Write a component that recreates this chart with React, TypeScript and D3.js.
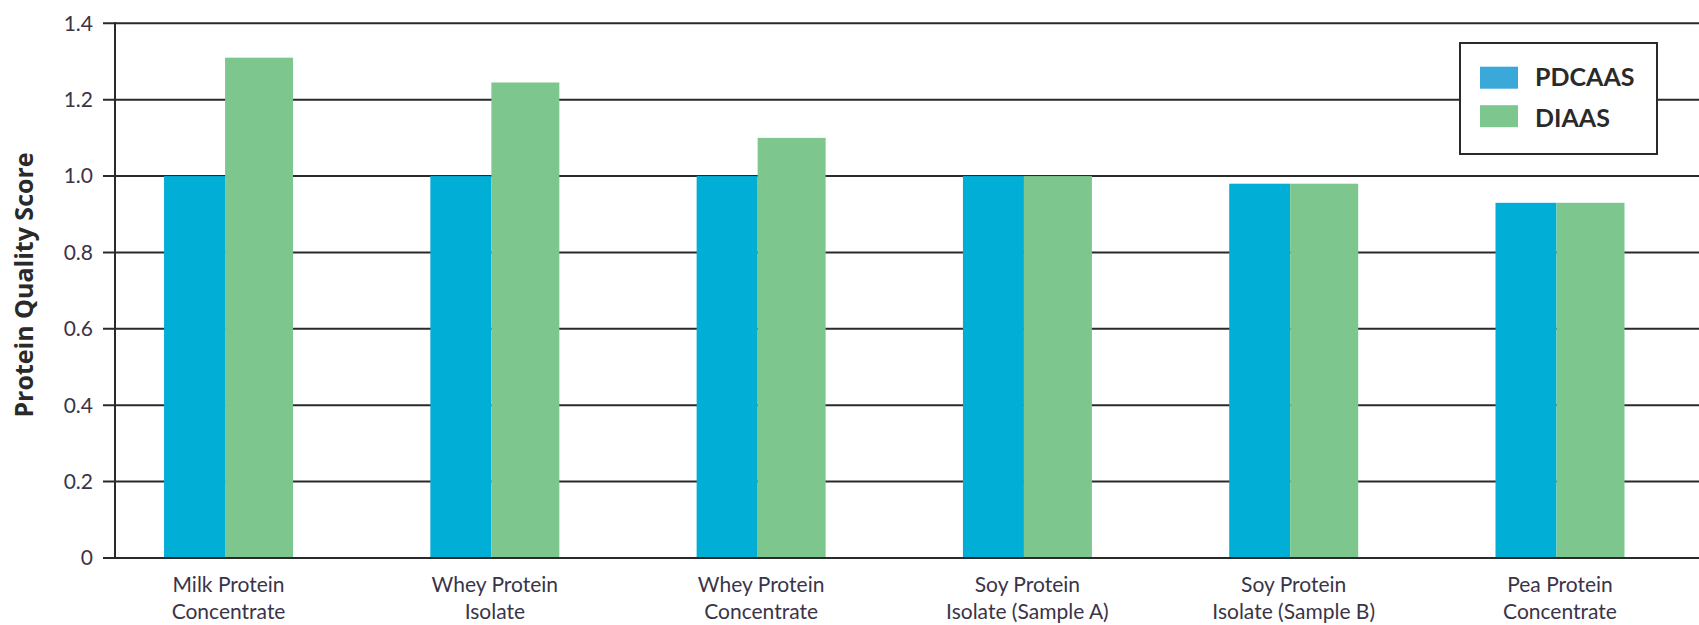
import React from "react";
import * as d3 from "d3";

const categories: string[][] = [
  ["Milk Protein", "Concentrate"],
  ["Whey Protein", "Isolate"],
  ["Whey Protein", "Concentrate"],
  ["Soy Protein", "Isolate (Sample A)"],
  ["Soy Protein", "Isolate (Sample B)"],
  ["Pea Protein", "Concentrate"],
];
const seriesNames = ["PDCAAS", "DIAAS"];
const pdcaas = [1.0, 1.0, 1.0, 1.0, 0.98, 0.93];
const diaas = [1.31, 1.245, 1.1, 1.0, 0.98, 0.93];
const yTicks = [0, 0.2, 0.4, 0.6, 0.8, 1.0, 1.2, 1.4];
const yTickLabels = ["0", "0.2", "0.4", "0.6", "0.8", "1.0", "1.2", "1.4"];
const yTitle = "Protein Quality Score";

const W = 1699;
const H = 625;
const barColors = ["#00aed6", "#7dc78e"];
const legendColors = ["#3aa9d9", "#7dc78e"];
const lineColor = "#2a2a2a";
const font = "Lato, 'Open Sans', sans-serif";

export default function App() {
  const axisX = 115;
  const y = d3.scaleLinear().domain([0, 1.4]).range([558, 23.3]);
  const keys = categories.map((c) => c.join(" "));
  const x = d3
    .scaleBand<string>()
    .domain(keys)
    .range([axisX, W])
    .paddingInner(0.5156)
    .paddingOuter(0.232)
    .align(0.397);
  const bw = x.bandwidth();
  const split = 0.473;
  const values = [pdcaas, diaas];

  return (
    <svg
      width={W}
      height={H}
      style={{ position: "absolute", left: 0, top: 0, background: "#fff" }}
      fontFamily={font}
    >
      {/* gridlines */}
      {yTicks.map((t, i) => (
        <g key={i}>
          <line
            x1={103}
            x2={W}
            y1={y(t)}
            y2={y(t)}
            stroke={lineColor}
            strokeWidth={2}
          />
          <text
            x={93}
            y={y(t)}
            dy="0.35em"
            textAnchor="end"
            fontSize={21}
            fill="#3a3448"
          >
            {yTickLabels[i]}
          </text>
        </g>
      ))}
      {/* y axis line */}
      <line x1={axisX} x2={axisX} y1={y(1.4) - 1} y2={y(0) + 1} stroke={lineColor} strokeWidth={2} />
      {/* bars */}
      {keys.map((k, i) => {
        const x0 = x(k)!;
        const w0 = bw * split;
        return (
          <g key={k}>
            <rect
              x={x0}
              y={y(values[0][i])}
              width={w0}
              height={y(0) - y(values[0][i])}
              fill={barColors[0]}
            />
            <rect
              x={x0 + w0}
              y={y(values[1][i])}
              width={bw - w0}
              height={y(0) - y(values[1][i])}
              fill={barColors[1]}
            />
          </g>
        );
      })}
      {/* baseline over bars */}
      <line x1={103} x2={W} y1={y(0)} y2={y(0)} stroke={lineColor} strokeWidth={2} />
      {/* x labels */}
      {keys.map((k, i) => (
        <text
          key={k}
          x={x(k)! + bw / 2}
          y={592}
          textAnchor="middle"
          fontSize={21}
          fill="#3a3448"
        >
          <tspan x={x(k)! + bw / 2}>{categories[i][0]}</tspan>
          <tspan x={x(k)! + bw / 2} dy={27}>
            {categories[i][1]}
          </tspan>
        </text>
      ))}
      {/* y title */}
      <text
        transform={`translate(24,${285}) rotate(-90)`}
        textAnchor="middle"
        dy="0.35em"
        fontSize={25}
        fontWeight="bold"
        fontFamily="'Open Sans', Lato, sans-serif"
        fill="#2a2a2a"
      >
        {yTitle}
      </text>
      {/* legend */}
      <g>
        <rect x={1460} y={43} width={197} height={111} fill="#fff" stroke={lineColor} strokeWidth={2} />
        {seriesNames.map((s, i) => (
          <g key={s}>
            <rect x={1480} y={66.7 + i * 38.5} width={38} height={22} fill={legendColors[i]} />
            <text
              x={1535}
              y={77.7 + i * 40.5}
              dy="0.35em"
              fontSize={25}
              fontWeight="bold"
              fill="#2a2a2a"
            >
              {s}
            </text>
          </g>
        ))}
      </g>
    </svg>
  );
}
